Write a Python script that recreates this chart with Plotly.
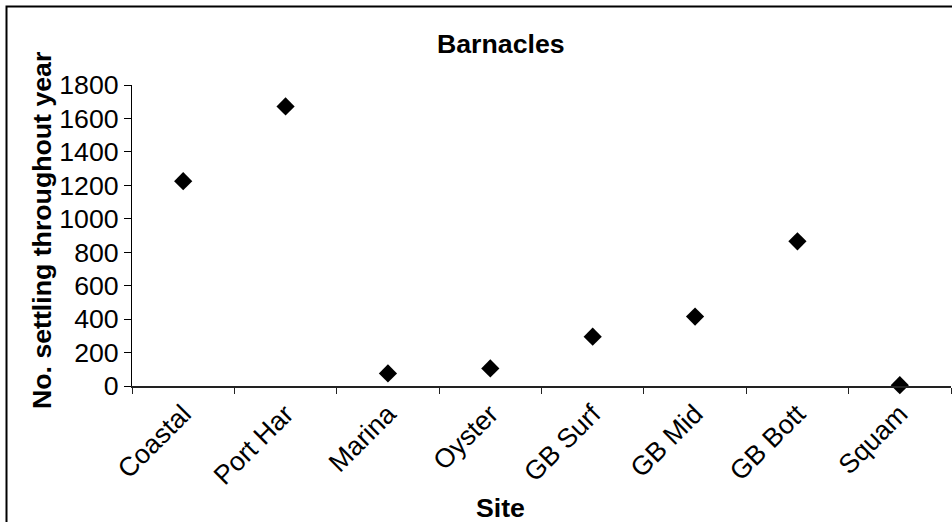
import plotly.graph_objects as go

sites = ["Coastal", "Port Har", "Marina", "Oyster", "GB Surf", "GB Mid", "GB Bott", "Squam"]
settling = [1225, 1672, 75, 105, 295, 415, 865, 5]
y_ticks = [0, 200, 400, 600, 800, 1000, 1200, 1400, 1600, 1800]

W, H = 952, 522
L, R, T, B = 132, 951, 85, 386  # plot area in px

def px_x(p):
    return (p - L) / (R - L)

def px_y(p):
    return (B - p) / (B - T)

FONT = "Liberation Sans, Arial, sans-serif"
FS = 26.7

fig = go.Figure()
fig.add_trace(go.Scatter(
    x=sites, y=settling, mode="markers",
    marker=dict(symbol="diamond", size=14, color="black", line=dict(width=0)),
    cliponaxis=False, showlegend=False,
))

fig.update_layout(
    width=W, height=H,
    margin=dict(l=L, r=W - R, t=T, b=H - B, autoexpand=False),
    paper_bgcolor="white", plot_bgcolor="white",
    font=dict(family=FONT, size=FS, color="black"),
    xaxis=dict(
        type="category", range=[-0.5, 7.5], tickson="boundaries",
        showline=True, linecolor="#222", linewidth=1.5,
        ticks="outside", ticklen=6, tickcolor="#222", tickwidth=1,
        tickangle=-45, showgrid=False, zeroline=False,
        tickfont=dict(size=FS),
    ),
    yaxis=dict(
        range=[0, 1800], tickvals=y_ticks,
        showline=True, linecolor="black", linewidth=1,
        ticks="outside", ticklen=7, tickcolor="black", tickwidth=1,
        showgrid=False, zeroline=False,
        tickfont=dict(size=FS),
    ),
    annotations=[
        dict(text="<b>Barnacles</b>", xref="paper", yref="paper",
             x=px_x(501), y=px_y(44), xanchor="center", yanchor="middle",
             showarrow=False, font=dict(size=FS)),
        dict(text="<b>No. settling throughout year</b>", xref="paper", yref="paper",
             x=px_x(42), y=px_y(231), xanchor="center", yanchor="middle",
             textangle=-90, showarrow=False, font=dict(size=FS)),
        dict(text="<b>Site</b>", xref="paper", yref="paper",
             x=px_x(500), y=px_y(508), xanchor="center", yanchor="middle",
             showarrow=False, font=dict(size=FS)),
    ],
    shapes=[
        dict(type="rect", xref="paper", yref="paper",
             x0=px_x(6.5), x1=px_x(1000), y0=px_y(6.5), y1=px_y(540),
             line=dict(color="black", width=2), fillcolor="rgba(0,0,0,0)",
             layer="above"),
    ],
)

fig.write_html(
    "out.html",
    config={"displayModeBar": False},
    post_script="document.body.style.margin='0';document.body.style.overflow='hidden';",
)
